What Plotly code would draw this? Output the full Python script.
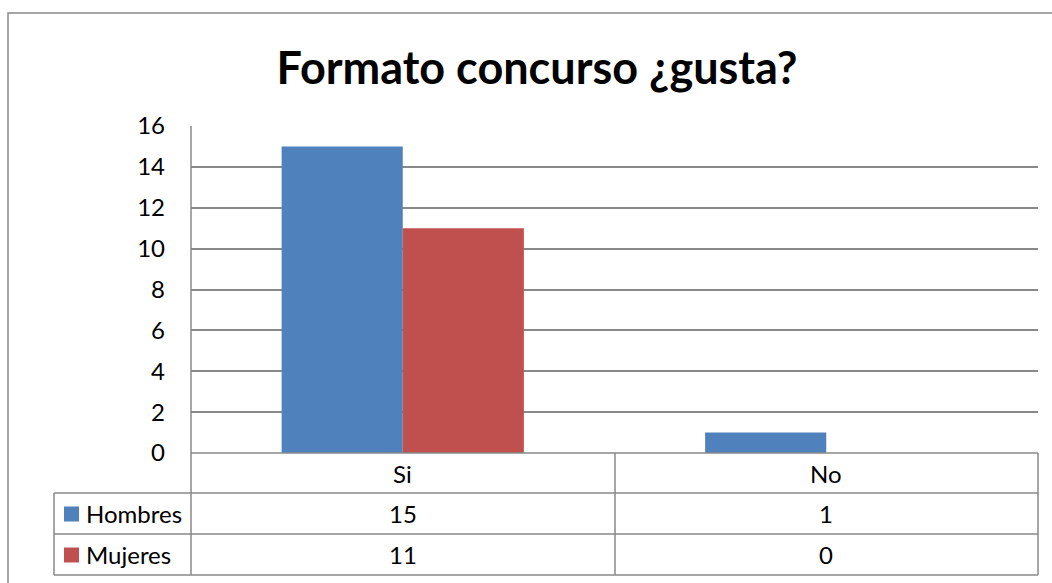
import plotly.graph_objects as go

categories = ["Si", "No"]
hombres = [15, 1]
mujeres = [11, 0]
series_names = ["Hombres", "Mujeres"]
colors = ["#4F81BD", "#C0504D"]

W, H = 1052, 583
# plot area in pixels
L, R, T, B = 191, 1038, 126, 453
GRID = "#898989"
FONT = "Lato"


def px(x):
    return (x - L) / (R - L)


def py(y):
    return (B - y) / (B - T)


fig = go.Figure()
for name, vals, col in zip(series_names, [hombres, mujeres], colors):
    fig.add_trace(go.Bar(name=name, x=categories, y=vals,
                         marker=dict(color=col, line=dict(width=0))))

# table rows (pixel y of row boundaries)
rows = [453, 493, 534, 575]
col_div = 615
shapes = []
line = dict(color=GRID, width=1.5)
for y in rows[1:]:
    shapes.append(dict(type="line", xref="paper", yref="paper",
                       x0=px(54), x1=px(R), y0=py(y), y1=py(y), line=line))
shapes.append(dict(type="line", xref="paper", yref="paper",
                   x0=0, x1=1, y0=0, y1=0, line=line))
shapes.append(dict(type="line", xref="paper", yref="paper",
                   x0=0, x1=0, y0=py(rows[-1]), y1=1, line=line))
for x in [col_div, R]:
    shapes.append(dict(type="line", xref="paper", yref="paper",
                       x0=px(x), x1=px(x), y0=py(rows[0]), y1=py(rows[-1]), line=line))
shapes.append(dict(type="line", xref="paper", yref="paper",
                   x0=px(54), x1=px(54), y0=py(rows[1]), y1=py(rows[-1]), line=line))
# outer chart border
shapes.append(dict(type="rect", xref="paper", yref="paper",
                   x0=px(8), x1=px(1060), y0=py(13), y1=py(600),
                   line=dict(color=GRID, width=1.5), fillcolor="rgba(0,0,0,0)"))

annotations = []
tf = dict(family=FONT, size=24, color="black")
hdr_c = (rows[0] + rows[1]) / 2
for i, cat in enumerate(categories):
    annotations.append(dict(x=cat, xref="x", y=py(hdr_c), yref="paper",
                            text=cat, showarrow=False, font=tf,
                            xanchor="center", yanchor="middle"))
for r, (name, vals, col) in enumerate(zip(series_names, [hombres, mujeres], colors)):
    yc = (rows[r + 1] + rows[r + 2]) / 2
    shapes.append(dict(type="rect", xref="paper", yref="paper",
                       x0=px(64), x1=px(79), y0=py(yc - 7), y1=py(yc + 8),
                       fillcolor=col, line=dict(width=0)))
    annotations.append(dict(x=px(84), xref="paper", y=py(yc), yref="paper",
                            text=name, showarrow=False, font=tf,
                            xanchor="left", yanchor="middle"))
    for cat, v in zip(categories, vals):
        annotations.append(dict(x=cat, xref="x", y=py(yc), yref="paper",
                                text=str(v), showarrow=False, font=tf,
                                xanchor="center", yanchor="middle"))

fig.update_layout(
    width=W, height=H,
    margin=dict(l=L, r=W - R, t=T, b=H - B, pad=0),
    paper_bgcolor="white", plot_bgcolor="white",
    barmode="group", bargap=0.428, bargroupgap=0,
    showlegend=False,
    title=dict(text="<b>Formato concurso ¿gusta?</b>", x=537 / W, xanchor="center",
               y=1 - 68 / H, yanchor="middle",
               font=dict(family=FONT, size=45, color="black")),
    xaxis=dict(showticklabels=False, showgrid=False, zeroline=False, showline=False,
               fixedrange=True),
    yaxis=dict(range=[0, 16], dtick=2, showgrid=True, gridcolor=GRID, gridwidth=1.5,
               zeroline=False, showline=False, tickfont=dict(family=FONT, size=24, color="black"),
               ticklabelstandoff=25),
    shapes=shapes,
    annotations=annotations,
)

fig.write_html("out.html", config={"displayModeBar": False},
               post_script="document.body.style.margin='0';")
